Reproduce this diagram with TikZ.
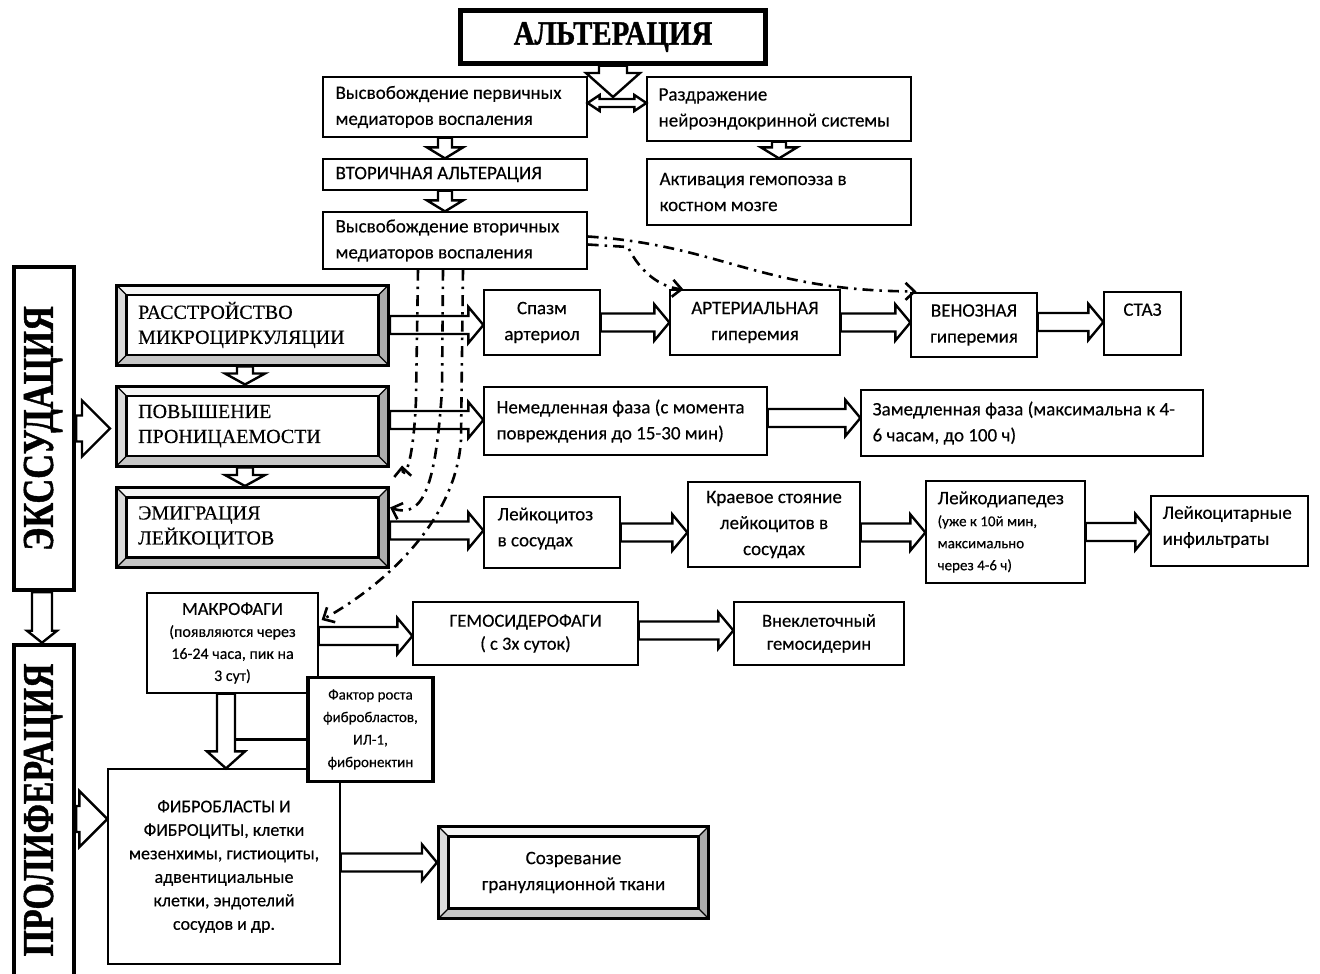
\documentclass[tikz,border=0pt]{standalone}
\usepackage{fontspec}
\setmainfont{Liberation Serif}[FakeBold=0.3]
\newfontfamily\carl{Carlito}[FakeBold=0.3]
\newfontfamily\heavy{Liberation Serif}[BoldFeatures={FakeBold=1.2}]
\usetikzlibrary{calc,arrows.meta}
\def\bvd{10pt}
\newcommand\headfont{\heavy\fontsize{44}{44}\selectfont\bfseries}
\newcommand\bevelparts{%
 \fill[gray!8] let \p1=(bvA),\p2=(bvB) in (\x1,\y2) -- (\x2,\y2) -- (\x2-\bvd,\y2-\bvd) -- (\x1+\bvd,\y2-\bvd) -- cycle;
 \fill[gray!28] let \p1=(bvA),\p2=(bvB) in (\x1,\y1) -- (\x1,\y2) -- (\x1+\bvd,\y2-\bvd) -- (\x1+\bvd,\y1+\bvd) -- cycle;
 \fill[gray!65] let \p1=(bvA),\p2=(bvB) in (\x2,\y1) -- (\x2,\y2) -- (\x2-\bvd,\y2-\bvd) -- (\x2-\bvd,\y1+\bvd) -- cycle;
 \fill[gray!45] let \p1=(bvA),\p2=(bvB) in (\x1,\y1) -- (\x2,\y1) -- (\x2-\bvd,\y1+\bvd) -- (\x1+\bvd,\y1+\bvd) -- cycle;
 \draw[line width=2.2pt] let \p1=(bvA),\p2=(bvB) in (\x1+\bvd,\y1+\bvd) rectangle (\x2-\bvd,\y2-\bvd);
 \draw[line width=1.2pt] let \p1=(bvA),\p2=(bvB) in (\x1,\y1) -- (\x1+\bvd,\y1+\bvd) (\x2,\y1) -- (\x2-\bvd,\y1+\bvd) (\x1,\y2) -- (\x1+\bvd,\y2-\bvd) (\x2,\y2) -- (\x2-\bvd,\y2-\bvd);
}
% right hollow arrow: from, to, shaft half, head half, head length
\newcommand\rarr[5]{\draw[harrow] let \p1=#1, \p2=#2 in (\x1,\y1+#3) -- (\x2-#5,\y1+#3) -- (\x2-#5,\y1+#4) -- (\x2,\y1) -- (\x2-#5,\y1-#4) -- (\x2-#5,\y1-#3) -- (\x1,\y1-#3) -- cycle;}
% down hollow arrow
\newcommand\darr[5]{\draw[harrow] let \p1=#1, \p2=#2 in (\x1-#3,\y1) -- (\x1-#3,\y2+#5) -- (\x1-#4,\y2+#5) -- (\x1,\y2) -- (\x1+#4,\y2+#5) -- (\x1+#3,\y2+#5) -- (\x1+#3,\y1) -- cycle;}
% double hollow arrow
\newcommand\lrarr[5]{\draw[harrow] let \p1=#1, \p2=#2 in (\x1,\y1) -- (\x1+#5,\y1+#4) -- (\x1+#5,\y1+#3) -- (\x2-#5,\y1+#3) -- (\x2-#5,\y1+#4) -- (\x2,\y1) -- (\x2-#5,\y1-#4) -- (\x2-#5,\y1-#3) -- (\x1+#5,\y1-#3) -- (\x1+#5,\y1-#4) -- cycle;}
\tikzset{
 box/.style={draw, line width=1.2pt, fill=white, inner sep=0pt},
 tbox/.style={draw, line width=4.5pt, fill=white, inner sep=0pt},
 ctext/.style={align=center, font=\carl\fontsize{19}{26}\selectfont},
 lt/.style={anchor=west, align=left, inner sep=0pt, font=\carl\fontsize{19}{26}\selectfont},
 st/.style={anchor=west, align=left, inner sep=0pt, font=\fontsize{20}{25}\selectfont},
 harrow/.style={draw, fill=white, line width=2.4pt, line join=miter, miter limit=10},
 dd/.style={line width=2.6pt, dash pattern=on 11pt off 6pt on 2.5pt off 6pt},
 barb/.style={-{Straight Barb[length=9pt,width=17pt]}},
 bevel/.style={draw, line width=3pt, fill=white, inner sep=0pt, path picture={
   \coordinate (bvA) at (path picture bounding box.south west);
   \coordinate (bvB) at (path picture bounding box.north east);
   \bevelparts}},
}
\begin{document}
\begin{tikzpicture}[x=1pt,y=-1pt]
\useasboundingbox[fill=white] (0,0) rectangle (1320,974);
% ---- top block
\node[tbox, minimum width=305, minimum height=53] (alt) at (613,37) {\heavy\fontsize{34}{34}\selectfont\bfseries\scalebox{0.85}[1]{АЛЬТЕРАЦИЯ}};
\node[box, minimum width=264, minimum height=60] (p1) at (455,107) {};
\node[lt] (p1t) at ([xshift=13pt]p1.west) {Высвобождение первичных\\медиаторов воспаления};
\node[box, minimum width=264, minimum height=64] (ne) at (779,109) {};
\node[lt] (net) at ([xshift=12pt]ne.west) {Раздражение\\нейроэндокринной системы};
\node[box, minimum width=264, minimum height=31] (va) at (455,174.5) {};
\node[lt] (vat) at ([xshift=13pt]va.west) {ВТОРИЧНАЯ АЛЬТЕРАЦИЯ};
\node[box, minimum width=264, minimum height=66] (gem) at (779,192) {};
\node[lt] (gemt) at ([xshift=13pt]gem.west) {Активация гемопоэза в\\костном мозге};
\node[box, minimum width=264, minimum height=57] (s2) at (455,240.5) {};
\node[lt] (s2t) at ([xshift=13pt]s2.west) {Высвобождение вторичных\\медиаторов воспаления};
% ---- left vertical boxes
\node[tbox, minimum width=60, minimum height=323] (exs) at (44,428.5) {};
\node[rotate=90, font=\headfont] (exst) at ([xshift=-1pt]exs.center) {\scalebox{0.78}[1]{ЭКССУДАЦИЯ}};
\node[tbox, minimum width=60, minimum height=336] (pro) at (44,813) {};
\node[rotate=90, font=\headfont] (prot) at (43,810) {\scalebox{0.77}[1]{ПРОЛИФЕРАЦИЯ}};
% ---- bevel boxes
\node[bevel, minimum width=272, minimum height=80] (r1) at (252.5,325) {};
\node[st] (r1t) at ([xshift=23pt]r1.west) {РАССТРОЙСТВО\\МИКРОЦИРКУЛЯЦИИ};
\node[bevel, minimum width=272, minimum height=80] (r2) at (252.5,426) {};
\node[st] (r2t) at ([xshift=23pt]r2.west) {ПОВЫШЕНИЕ\\ПРОНИЦАЕМОСТИ};
\node[bevel, minimum width=272, minimum height=80] (r3) at (252.5,527.5) {};
\node[st] (r3t) at ([xshift=23pt]r3.west) {ЭМИГРАЦИЯ\\ЛЕЙКОЦИТОВ};
% ---- row 1
\node[box, ctext, minimum width=116, minimum height=65] (spazm) at (542,322.5) {Спазм\\артериол};
\node[box, ctext, minimum width=170, minimum height=65] (arter) at (755,322.5) {АРТЕРИАЛЬНАЯ\\гиперемия};
\node[box, ctext, minimum width=126, minimum height=64] (ven) at (974,325) {ВЕНОЗНАЯ\\гиперемия};
\node[box, ctext, minimum width=77, minimum height=63] (staz) at (1142.5,323.5) {СТАЗ\\[-6pt]\strut};
% ---- row 2
\node[box, minimum width=283, minimum height=68] (imm) at (625.5,421) {};
\node[lt] (immt) at ([xshift=13pt]imm.west) {Немедленная фаза (с момента\\повреждения до 15-30 мин)};
\node[box, minimum width=342, minimum height=66] (del) at (1032,423) {};
\node[lt] (delt) at ([xshift=12pt]del.west) {Замедленная фаза (максимальна к 4-\\6 часам, до 100 ч)};
% ---- row 3
\node[box, minimum width=136, minimum height=71] (leu) at (552,532.5) {};
\node[lt] (leut) at ([xshift=14pt,yshift=4pt]leu.west) {Лейкоцитоз\\в сосудах};
\node[box, ctext, minimum width=172, minimum height=85] (kra) at (774,524.5) {Краевое стояние\\лейкоцитов в\\сосудах};
\node[box, minimum width=159, minimum height=102] (dia) at (1005.5,532) {};
\node[lt, font=\carl\fontsize{15}{22}\selectfont] (diat) at ([xshift=12pt]dia.west) {{\fontsize{19}{22}\selectfont Лейкодиапедез}\\(уже к 10й мин,\\максимально\\через 4-6 ч)};
\node[box, minimum width=157, minimum height=70] (inf) at (1229.5,531) {};
\node[lt] (inft) at ([xshift=12pt,yshift=4pt]inf.west) {Лейкоцитарные\\инфильтраты};
% ---- row 4
\node[box, ctext, font=\carl\fontsize{16}{22}\selectfont, minimum width=171, minimum height=100] (mak) at (232.5,643) {{\fontsize{18.5}{22}\selectfont МАКРОФАГИ}\\(появляются через\\16-24 часа, пик на\\3 сут)};
\node[box, ctext, font=\carl\fontsize{18.5}{23}\selectfont, minimum width=225, minimum height=63] (hem) at (525.5,633.5) {ГЕМОСИДЕРОФАГИ\\( с 3х суток)};
\node[box, ctext, font=\carl\fontsize{18.5}{23}\selectfont, minimum width=170, minimum height=63] (ext) at (819,633.5) {Внеклеточный\\гемосидерин};
\node[box, ctext, font=\carl\fontsize{18}{23.5}\selectfont, minimum width=232, minimum height=195] (fib) at (224,866.5) {ФИБРОБЛАСТЫ И\\ФИБРОЦИТЫ, клетки\\мезенхимы, гистиоциты,\\адвентициальные\\клетки, эндотелий\\сосудов и др.};
\node[bevel, ctext, minimum width=270, minimum height=92] (mat) at (573.5,872.5) {Созревание\\грануляционной ткани};
% ---- hollow arrows
\coordinate (altTip) at (613,97);
\lrarr{([yshift=4pt]p1.east)}{([yshift=4pt]ne.west)}{4pt}{8pt}{12pt}
\darr{(alt.south)}{(altTip)}{14pt}{27pt}{24pt}
\darr{([xshift=-10pt]p1.south)}{([xshift=-10pt]va.north)}{7pt}{18pt}{11pt}
\darr{([xshift=-10pt]va.south)}{([xshift=-10pt]s2.north)}{7pt}{18pt}{11pt}
\darr{(ne.south)}{(gem.north)}{7pt}{18pt}{11pt}
\darr{([xshift=-7.5pt]r1.south)}{([xshift=-7.5pt]r2.north)}{8pt}{20pt}{11pt}
\darr{([xshift=-7.5pt]r2.south)}{([xshift=-7.5pt]r3.north)}{8pt}{20pt}{11pt}
\rarr{(exs.east)}{([xshift=-5pt]r2.west)}{13pt}{28pt}{28pt}
\darr{([xshift=-2pt]exs.south)}{([xshift=-2pt]pro.north)}{10pt}{15pt}{12pt}
\rarr{([yshift=-6pt]pro.east)}{(fib.west)}{13pt}{28pt}{28pt}
\rarr{(r1.east)}{(spazm.west)}{9pt}{18pt}{15pt}
\rarr{(spazm.east)}{(arter.west)}{9pt}{18pt}{15pt}
\rarr{(arter.east)}{(ven.west)}{9pt}{18pt}{15pt}
\rarr{([yshift=3pt]ven.east)}{(staz.west)}{9pt}{18pt}{15pt}
\rarr{([yshift=6pt]r2.east)}{(imm.west)}{9pt}{18pt}{15pt}
\rarr{([yshift=3pt]imm.east)}{(del.west)}{9pt}{18pt}{15pt}
\rarr{([yshift=-3pt]r3.east)}{(leu.west)}{9pt}{18pt}{15pt}
\rarr{(leu.east)}{(kra.west)}{9pt}{18pt}{15pt}
\rarr{([yshift=-8pt]kra.east)}{(dia.west)}{9pt}{18pt}{15pt}
\rarr{(dia.east)}{(inf.west)}{9pt}{18pt}{15pt}
\rarr{([yshift=7pt]mak.east)}{(hem.west)}{9pt}{18pt}{15pt}
\rarr{([yshift=3pt]hem.east)}{(ext.west)}{9pt}{18pt}{15pt}
\rarr{([yshift=4pt]fib.east)}{(mat.west)}{9pt}{18pt}{15pt}
\darr{([xshift=-6.5pt]mak.south)}{([xshift=2pt]fib.north)}{9pt}{19pt}{17pt}
% ---- factor box
\node[tbox, line width=3.5pt, ctext, font=\carl\fontsize{15}{22.5}\selectfont, minimum width=125, minimum height=104] (fak) at (370.5,729.5) {Фактор роста\\фибробластов,\\ИЛ-1,\\фибронектин};
\coordinate (mshaft) at (235,739);
\draw[line width=3pt] (mshaft) -- (mshaft -| fak.west);
% ---- dash-dot connectors
\draw[dd, barb] ([yshift=4pt]s2.east) .. controls (720,245) and (760,291) .. ([xshift=6pt,yshift=1pt]ven.north west);
\draw[dd, barb] ([yshift=-4pt]s2.east) -- (628,247) .. controls (640,272) and (660,287) .. ([xshift=14pt]arter.north west);
\draw[dd, barb] ([xshift=-37pt]s2.south) -- (416,400) .. controls (413,470) and (403,480) .. ([xshift=12pt,yshift=2pt]r2.south east);
\draw[dd, barb] ([xshift=-12pt]s2.south) -- (442,390) .. controls (436,480) and (425,520) .. ([yshift=20pt]r3.east);
\draw[dd, barb] ([xshift=8pt]s2.south) -- (461,440) .. controls (456,520) and (385,585) .. ([xshift=3pt,yshift=23pt]mak.east);
\end{tikzpicture}
\end{document}
